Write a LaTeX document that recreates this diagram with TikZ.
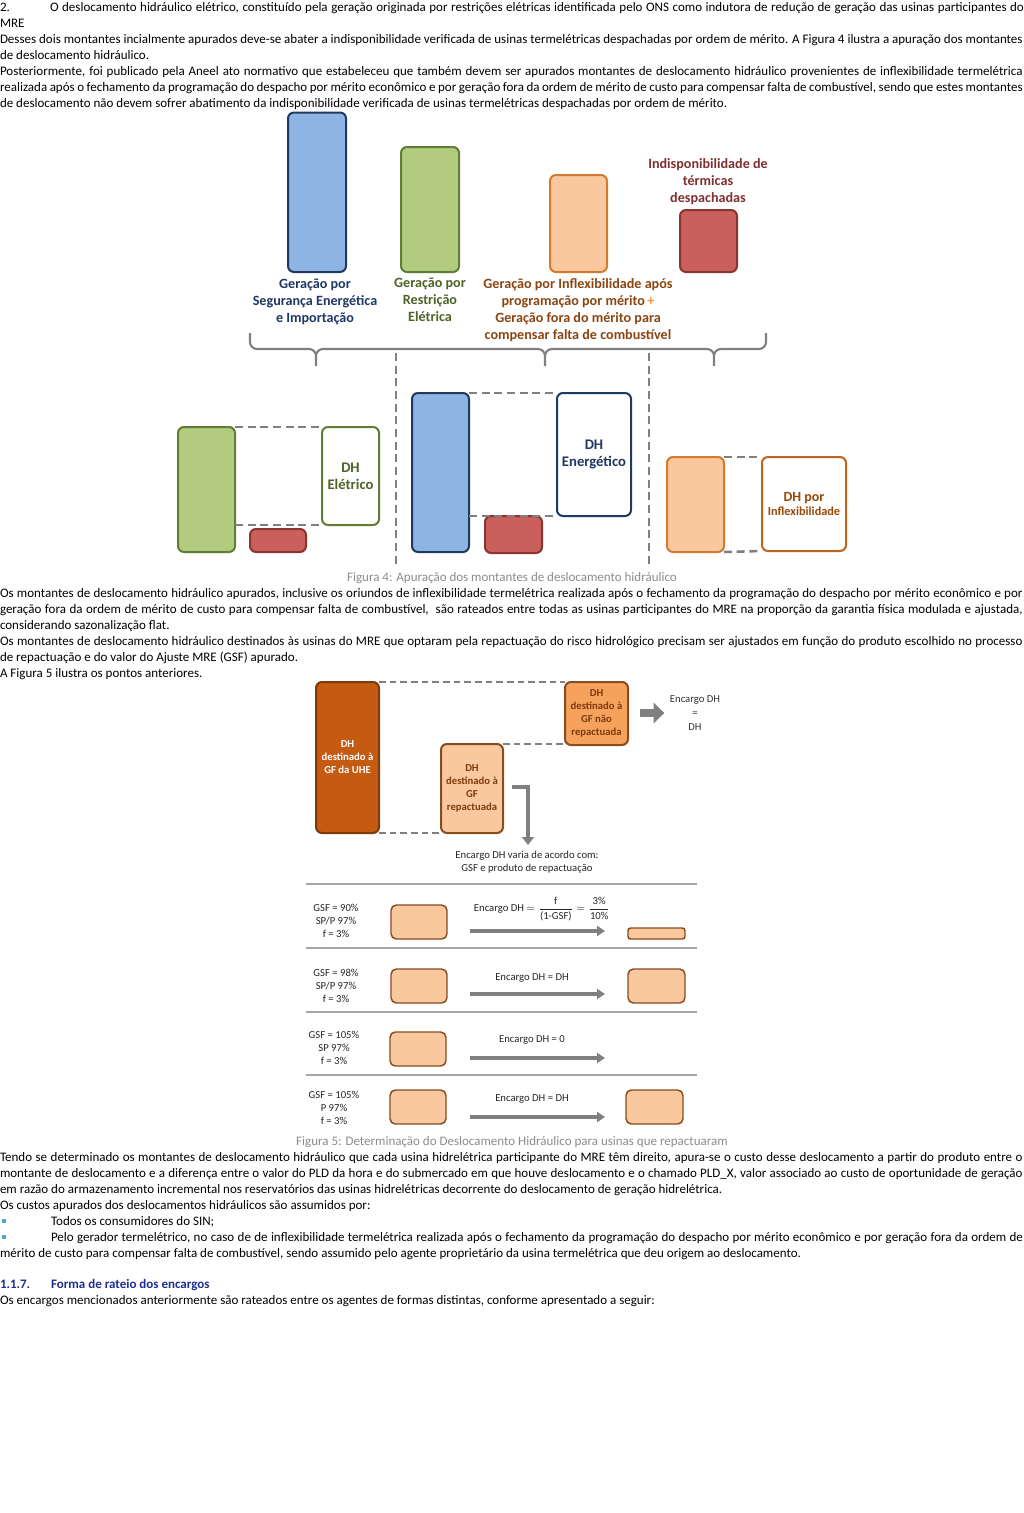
\documentclass[tikz,border=0pt]{standalone}
\usepackage{fontspec}
\setmainfont{Carlito}
\usetikzlibrary{arrows.meta}
\definecolor{bluefill}{HTML}{8DB4E2}
\definecolor{blueline}{HTML}{1F3A5F}
\definecolor{greenfill}{HTML}{B2CB7F}
\definecolor{greenline}{HTML}{617D35}
\definecolor{orfill}{HTML}{FAC89E}
\definecolor{orline}{HTML}{D57B2E}
\definecolor{redfill}{HTML}{C9605B}
\definecolor{redline}{HTML}{8A3431}
\definecolor{navytext}{HTML}{1F3864}
\definecolor{olivetext}{HTML}{4F6228}
\definecolor{browntext}{HTML}{8A4512}
\definecolor{maroontext}{HTML}{7F3030}
\definecolor{plusor}{HTML}{F79646}
\definecolor{inflline}{HTML}{C0651E}
\definecolor{infltext}{HTML}{984807}
\definecolor{dkorange}{HTML}{C55A11}
\definecolor{dkoline}{HTML}{7F3A0C}
\definecolor{mdorange}{HTML}{F6A25C}
\definecolor{boxlinev}{HTML}{8A4B1E}
\definecolor{grl}{HTML}{808080}
\definecolor{capgray}{HTML}{8C8C8C}
\definecolor{sepc}{HTML}{A6A6A6}
\definecolor{bulletc}{HTML}{4BACC6}
\definecolor{headc}{HTML}{1F2F8F}
\newcommand\bodyf{\fontsize{9.75}{12}\selectfont}
\newcommand\labf{\fontsize{10.6}{12.75}\selectfont\bfseries}
\newcommand\dhf{\fontsize{11}{13}\selectfont\bfseries}
\newcommand\smallf{\fontsize{8}{9.75}\selectfont}
\newcommand\smallbf{\fontsize{8}{9.75}\selectfont\bfseries}
\newcommand\mkbox[6]{\node[bx,#6,minimum width={(#4-#2)*0.75pt},minimum height={(#5-#3)*0.75pt}] (#1) at ({(#2+#4)/2},{(#3+#5)/2})}
\begin{document}
\begin{tikzpicture}[x=0.75pt,y=-0.75pt,
  txt/.style={anchor=base west,inner sep=0,outer sep=0,font=\bodyf},
  bx/.style={rounded corners=4.5pt,line width=1.5pt,inner sep=0,outer sep=0,align=center},
  dsh/.style={dash pattern=on 6pt off 3.5pt,line width=1.9pt,color=grl},
  dshf/.style={dash pattern=on 5pt off 3pt,line width=1.5pt,color=grl},
  brc/.style={line width=1.6pt,color=grl},
  rowbox/.style={bx,fill=orfill,draw=boxlinev,line width=1.1pt,rounded corners=4pt},
  rarrow/.style={line width=3pt,color=grl,-{Triangle[length=6pt,width=7.5pt]}},
  seprule/.style={line width=0.8pt,color=sepc},
  capt/.style={inner sep=0,font=\bodyf,text=capgray}]
\useasboundingbox (0,0) rectangle (1024,1513);
\fill[white] (0,0) rectangle (1024,1513);

% ---------------- top text ----------------
\node[txt] (t0) at (0,12) {2.};
\node[txt] (t1) at (50,12) {\makebox[730.5pt][s]{O deslocamento hidráulico elétrico, constituído pela geração originada por restrições elétricas identificada pelo ONS como indutora de redução de geração das usinas participantes do}};
\node[txt] (t2) at (0,28) {MRE};
\node[txt] (t3) at (0,44) {\makebox[767pt][s]{Desses dois montantes incialmente apurados deve-se abater a indisponibilidade verificada de usinas termelétricas despachadas por ordem de mérito. A Figura 4 ilustra a apuração dos montantes}};
\node[txt] (t4) at (0,60) {de deslocamento hidráulico.};
\node[txt] (t5) at (0,76) {\makebox[767pt][s]{Posteriormente, foi publicado pela Aneel ato normativo que estabeleceu que também devem ser apurados montantes de deslocamento hidráulico provenientes de inflexibilidade termelétrica}};
\node[txt] (t6) at (0,92) {\makebox[767pt][s]{realizada após o fechamento da programação do despacho por mérito econômico e por geração fora da ordem de mérito de custo para compensar falta de combustível, sendo que estes montantes}};
\node[txt] (t7) at (0,107.5) {de deslocamento não devem sofrer abatimento da indisponibilidade verificada de usinas termelétricas despachadas por ordem de mérito.};

% ---------------- Figura 4 top ----------------
\mkbox{b1}{288}{112.5}{346}{272}{fill=bluefill,draw=blueline}{};
\mkbox{g1}{401}{147}{459}{272}{fill=greenfill,draw=greenline}{};
\mkbox{o1}{550}{175}{607}{272}{fill=orfill,draw=orline}{};
\mkbox{r1}{680}{210}{737}{272}{fill=redfill,draw=redline}{};
\node[inner sep=0,align=center,font=\labf,text=maroontext] (lr) at (708,181.5) {Indisponibilidade de\\térmicas\\despachadas};
\node[inner sep=0,align=center,font=\labf,text=navytext] (lb) at (315,302) {Geração por\\Segurança Energética\\e Importação};
\node[inner sep=0,align=center,font=\labf,text=olivetext] (lg) at (430,299.5) {Geração por\\Restrição\\Elétrica};
\node[inner sep=0,align=center,font=\labf,text=browntext] (lo) at (578,310) {Geração por Inflexibilidade após\\programação por mérito\,{\color{plusor}+}\\Geração fora do mérito para\\compensar falta de combustível};

% brace
\draw[brc] (250,333) -- (250,342) to[out=-90,in=180] (257,349) -- (309,349) to[out=0,in=90] (316,356) -- (316,366);
\draw[brc] (316,356) to[out=90,in=180] (323,349) -- (538,349) to[out=0,in=90] (545,356) -- (545,366);
\draw[brc] (545,356) to[out=90,in=180] (552,349) -- (707,349) to[out=0,in=90] (714,356) -- (714,366);
\draw[brc] (714,356) to[out=90,in=180] (721,349) -- (759,349) to[out=0,in=-90] (766,342) -- (766,333);

% dashed separators
\coordinate (v1a) at (396,353); \coordinate (v1b) at (396,566);
\coordinate (v2a) at (649,353); \coordinate (v2b) at (649,566);
\draw[dsh,line width=1.5pt] (v1a) -- (v1b);
\draw[dsh,line width=1.5pt] (v2a) -- (v2b);

% ---------------- Figura 4 bottom ----------------
\mkbox{g2}{178}{427}{235}{552}{fill=greenfill,draw=greenline}{};
\mkbox{dhel}{322}{427}{379}{525}{fill=white,draw=greenline,font=\dhf,text=olivetext}{DH\\Elétrico};
\mkbox{r2}{250}{529}{306}{552}{fill=redfill,draw=redline}{};
\draw[dsh] (g2.north east) -- (dhel.north west);
\draw[dsh] (g2.east |- dhel.south) -- (dhel.south west);

\mkbox{b2}{412}{393}{469}{552}{fill=bluefill,draw=blueline}{};
\mkbox{dhen}{557}{393}{631}{516}{fill=white,draw=blueline,font=\dhf,text=navytext}{DH\\Energético};
\mkbox{r3}{485}{516}{542}{553}{fill=redfill,draw=redline}{};
\draw[dsh] (b2.north east) -- (dhen.north west);
\draw[dsh] (b2.east |- dhen.south) -- (dhen.south west);

\mkbox{o2}{667}{457}{724}{552}{fill=orfill,draw=orline}{};
\mkbox{dhin}{762}{457}{846}{551}{fill=white,draw=inflline,text=infltext}{{\fontsize{10.5}{12}\selectfont\bfseries DH por}\\[-1pt]{\fontsize{9.2}{10}\selectfont\bfseries Inflexibilidade}};
\draw[dsh] (o2.north east) -- (dhin.north west);
\draw[dsh] (o2.south east) -- (dhin.south west);

\node[capt] (cap4) at (512,578) {Figura 4: Apuração dos montantes de deslocamento hidráulico};

% ---------------- middle text ----------------
\node[txt] (m1) at (0,597) {\makebox[767pt][s]{Os montantes de deslocamento hidráulico apurados, inclusive os oriundos de inflexibilidade termelétrica realizada após o fechamento da programação do despacho por mérito econômico e por}};
\node[txt] (m2) at (0,613) {\makebox[767pt][s]{geração fora da ordem de mérito de custo para compensar falta de combustível,\ \ são rateados entre todas as usinas participantes do MRE na proporção da garantia física modulada e ajustada,}};
\node[txt] (m3) at (0,629) {considerando sazonalização flat.};
\node[txt] (m4) at (0,645) {\makebox[767pt][s]{Os montantes de deslocamento hidráulico destinados às usinas do MRE que optaram pela repactuação do risco hidrológico precisam ser ajustados em função do produto escolhido no processo}};
\node[txt] (m5) at (0,661) {de repactuação e do valor do Ajuste MRE (GSF) apurado.};
\node[txt] (m6) at (0,677) {A Figura 5 ilustra os pontos anteriores.};

% ---------------- Figura 5 ----------------
\mkbox{dk}{316}{682}{379}{833}{fill=dkorange,draw=dkoline,font=\smallbf,text=white}{DH\\destinado à\\GF da UHE};
\mkbox{nrep}{565}{682}{628}{745}{fill=mdorange,draw=boxlinev,font=\smallbf,text=dkoline}{DH\\destinado à\\GF não\\repactuada};
\mkbox{rep}{441}{744}{503}{833}{fill=orfill,draw=boxlinev,font=\smallbf,text=dkoline}{DH\\destinado à\\GF\\repactuada};
\draw[dshf] (dk.north east) -- (nrep.north west);
\draw[dshf] (dk.south east) -- (rep.south west);
\draw[dshf] (rep.north east) -- (rep.north east -| nrep.west);

\node[inner sep=0,align=center,font=\smallf,text=black!80] (encdh) at (695,713) {Encargo DH\\[1pt]=\\[1pt]DH};
\coordinate (ba1) at (640,713);
\draw[line width=6pt,color=grl,-{Triangle[length=8pt,width=15pt]}] (ba1) -- ([xshift=-4pt]encdh.west);

\node[inner sep=0,align=center,font=\smallf,text=black!85] (encvar) at (527,862) {Encargo DH varia de acordo com:\\GSF e produto de repactuação};
\coordinate (ea1) at (512,787);
\coordinate (ea2) at (528,845);
\draw[line width=3.5pt,color=grl,-{Triangle[length=6pt,width=9pt]}] (ea1) -| (ea2);

% separators
\coordinate (s1a) at (306,884); \coordinate (s1b) at (697,884);
\coordinate (s2a) at (306,948); \coordinate (s2b) at (697,948);
\coordinate (s3a) at (306,1012); \coordinate (s3b) at (697,1012);
\coordinate (s4a) at (306,1075); \coordinate (s4b) at (697,1075);
\draw[seprule] (s1a) -- (s1b);
\draw[seprule] (s2a) -- (s2b);
\draw[seprule] (s3a) -- (s3b);
\draw[seprule] (s4a) -- (s4b);

% row 1
\node[inner sep=0,align=center,font=\smallf,text=black!85] (l1) at (336,920.5) {GSF = 90\%\\SP/P 97\%\\f = 3\%};
\mkbox{rb1}{391}{905}{447}{939}{rowbox}{};
\node[inner sep=0,font=\smallf,text=black!85] (f1) at (542,909) {Encargo DH $=\displaystyle\frac{\mbox{f}}{\mbox{(1-GSF)}}=\frac{\mbox{3\%}}{\mbox{10\%}}$};
\coordinate (a1s) at (470,931); \coordinate (a1e) at (605,931);
\draw[rarrow] (a1s) -- (a1e);
\mkbox{rr1}{628}{928}{685}{939}{rowbox,rounded corners=2pt}{};

% row 2
\node[inner sep=0,align=center,font=\smallf,text=black!85] (l2) at (336,985.5) {GSF = 98\%\\SP/P 97\%\\f = 3\%};
\mkbox{rb2}{391}{969}{447}{1003}{rowbox}{};
\node[inner sep=0,font=\smallf,text=black!85] (f2) at (532,978) {Encargo DH = DH};
\coordinate (a2s) at (470,994); \coordinate (a2e) at (605,994);
\draw[rarrow] (a2s) -- (a2e);
\mkbox{rr2}{628}{969}{685}{1003}{rowbox}{};

% row 3
\node[inner sep=0,align=center,font=\smallf,text=black!85] (l3) at (334,1047.5) {GSF = 105\%\\SP 97\%\\f = 3\%};
\mkbox{rb3}{390}{1032}{446}{1066}{rowbox}{};
\node[inner sep=0,font=\smallf,text=black!85] (f3) at (532,1040) {Encargo DH = 0};
\coordinate (a3s) at (470,1058); \coordinate (a3e) at (605,1058);
\draw[rarrow] (a3s) -- (a3e);

% row 4
\node[inner sep=0,align=center,font=\smallf,text=black!85] (l4) at (334,1107.5) {GSF = 105\%\\P 97\%\\f = 3\%};
\mkbox{rb4}{390}{1090}{446}{1124}{rowbox}{};
\node[inner sep=0,font=\smallf,text=black!85] (f4) at (532,1099) {Encargo DH = DH};
\coordinate (a4s) at (470,1117); \coordinate (a4e) at (605,1117);
\draw[rarrow] (a4s) -- (a4e);
\mkbox{rr4}{626}{1090}{683}{1124}{rowbox}{};

\node[capt] (cap5) at (512,1142) {Figura 5: Determinação do Deslocamento Hidráulico para usinas que repactuaram};

% ---------------- bottom text ----------------
\node[txt] (n1) at (0,1161) {\makebox[767pt][s]{Tendo se determinado os montantes de deslocamento hidráulico que cada usina hidrelétrica participante do MRE têm direito, apura-se o custo desse deslocamento a partir do produto entre o}};
\node[txt] (n2) at (0,1177) {\makebox[767pt][s]{montante de deslocamento e a diferença entre o valor do PLD da hora e do submercado em que houve deslocamento e o chamado PLD\_X, valor associado ao custo de oportunidade de geração}};
\node[txt] (n3) at (0,1193) {em razão do armazenamento incremental nos reservatórios das usinas hidrelétricas decorrente do deslocamento de geração hidrelétrica.};
\node[txt] (n4) at (0,1209) {Os custos apurados dos deslocamentos hidráulicos são assumidos por:};
\node[fill=bulletc,minimum size=3pt,inner sep=0] (bu1) at (4,1221) {};
\node[txt] (n5) at (51,1225) {Todos os consumidores do SIN;};
\node[fill=bulletc,minimum size=3pt,inner sep=0] (bu2) at (4,1237) {};
\node[txt] (n6) at (51,1241) {\makebox[729pt][s]{Pelo gerador termelétrico, no caso de de inflexibilidade termelétrica realizada após o fechamento da programação do despacho por mérito econômico e por geração fora da ordem de}};
\node[txt] (n7) at (0,1257) {mérito de custo para compensar falta de combustível, sendo assumido pelo agente proprietário da usina termelétrica que deu origem ao deslocamento.};
\node[txt,font=\bodyf\bfseries,text=headc] (h1) at (0,1288) {1.1.7.};
\node[txt,font=\bodyf\bfseries,text=headc] (h2) at (51,1288) {Forma de rateio dos encargos};
\node[txt] (n8) at (0,1304) {Os encargos mencionados anteriormente são rateados entre os agentes de formas distintas, conforme apresentado a seguir:};
\end{tikzpicture}
\end{document}
